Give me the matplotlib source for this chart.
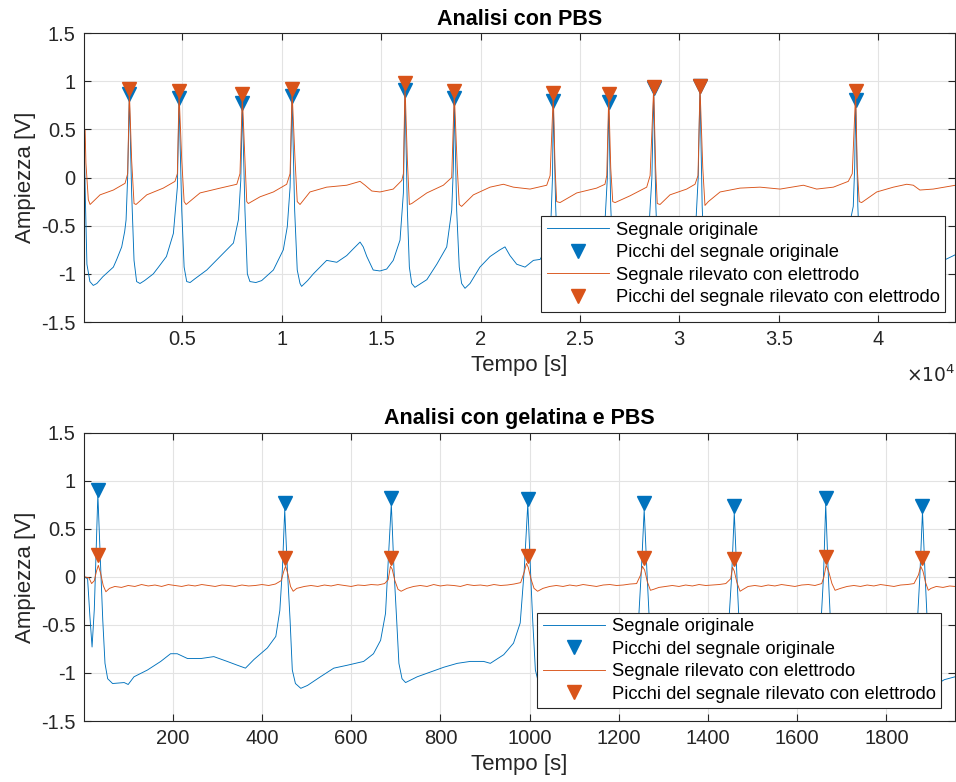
import numpy as np
import matplotlib.pyplot as plt
from matplotlib.ticker import FuncFormatter

plt.rcParams['font.family'] = ['Liberation Sans', 'DejaVu Sans']
plt.rcParams['axes.unicode_minus'] = False

BLUE = '#0072BD'
ORANGE = '#D95319'

# ---- Analisi con PBS (time in samples) ----
pbs_orig_t = [55, 120, 200, 350, 520, 700, 1000, 1530, 1700, 1950, 2100, 2170, 2250, 2334, 2450, 2570, 2700, 2870,
              3100, 3540, 3800, 4200, 4550, 4750, 4834, 4970, 5090, 5220, 5390, 5640, 6230, 6900, 7570, 7820, 7940,
              8018, 8150, 8270, 8400, 8700, 8990, 9580, 10080, 10280, 10420, 10520, 10650, 10780, 10920, 11000,
              11300, 11590, 12260, 12770, 13270, 13600, 13940, 14100, 14280, 14600, 14940, 15280, 15610, 15950,
              16120, 16200, 16320, 16420, 16540, 16700, 17300, 17800, 18300, 18550, 18630, 18680, 18800, 18930,
              19050, 19220, 19470, 19970, 20480, 20980, 21230, 21480, 21820, 22240, 22660, 23000, 23400, 23550,
              23620, 23660, 23780, 23900, 24050, 24400, 25200, 26000, 26250, 26380, 26450, 26550, 26680, 26850,
              27200, 28000, 28450, 28620, 28710, 28820, 28950, 29100, 29500, 30400, 30800, 30950, 31040, 31150,
              31280, 31450, 32000, 33000, 34500, 36000, 37500, 38400, 38750, 38820, 38870, 38980, 39100, 39250,
              39800, 41000, 42500, 43300, 43900]
pbs_orig_v = [0.45, -0.2, -0.9, -1.08, -1.12, -1.1, -1.03, -0.93, -0.85, -0.72, -0.56, -0.44, 0.01, 0.84, -0.16,
              -0.86, -1.08, -1.1, -1.07, -1.0, -0.93, -0.82, -0.58, -0.1, 0.8, -0.34, -0.93, -1.08, -1.09, -1.05,
              -0.96, -0.82, -0.68, -0.44, -0.03, 0.75, -0.34, -1.0, -1.08, -1.09, -1.07, -0.96, -0.75, -0.51, -0.1,
              0.83, -0.34, -0.96, -1.1, -1.13, -1.07, -1.0, -0.86, -0.88, -0.81, -0.74, -0.67, -0.72, -0.82, -0.96,
              -0.97, -0.95, -0.86, -0.65, -0.16, 0.89, -0.34, -0.93, -1.1, -1.14, -1.06, -0.9, -0.72, -0.34, 0.08,
              0.8, -0.34, -0.93, -1.1, -1.15, -1.1, -0.93, -0.82, -0.75, -0.72, -0.81, -0.9, -0.93, -0.86, -0.85,
              -0.7, -0.4, 0.0, 0.77, -0.3, -0.95, -1.1, -1.05, -0.9, -0.75, -0.5, 0.0, 0.76, -0.3, -0.95, -1.1,
              -1.05, -0.85, -0.6, 0.0, 0.91, -0.3, -0.95, -1.1, -1.05, -0.85, -0.6, 0.0, 0.93, -0.3, -0.95, -1.12,
              -1.05, -0.95, -0.9, -0.85, -0.8, -0.65, -0.3, 0.1, 0.78, -0.3, -0.95, -1.1, -1.05, -0.95, -0.9,
              -0.86, -0.8]

pbs_elet_t = [55, 110, 150, 270, 360, 860, 1530, 2120, 2250, 2334, 2450, 2570, 2670, 3210, 4040, 4630, 4750, 4834,
              4970, 5090, 5190, 5890, 6900, 7740, 7900, 8018, 8150, 8240, 8320, 8910, 9580, 10250, 10420, 10520,
              10670, 10780, 10920, 11420, 12260, 13270, 13940, 14190, 14530, 14940, 15610, 16040, 16120, 16200,
              16320, 16420, 16540, 17300, 18130, 18550, 18680, 18830, 18930, 19050, 19640, 20480, 21150, 21650,
              22490, 23330, 23500, 23660, 23750, 23830, 24000, 24840, 25840, 26260, 26350, 26450, 26550, 26650,
              26770, 27520, 28360, 28530, 28710, 28810, 28890, 29030, 29530, 30370, 30790, 30940, 31040, 31180,
              31290, 31460, 32050, 33050, 34060, 35070, 36240, 36910, 37750, 38500, 38700, 38870, 38950, 39050,
              39170, 39930, 40770, 41440, 41770, 42100, 42770, 43900]
pbs_elet_v = [0.5, 0.49, 0.15, -0.23, -0.28, -0.18, -0.13, -0.06, 0.04, 0.9, 0.18, -0.27, -0.28, -0.18, -0.11,
              -0.04, 0.04, 0.88, 0.18, -0.25, -0.28, -0.16, -0.11, -0.07, 0.04, 0.85, 0.18, -0.25, -0.27, -0.2,
              -0.15, -0.07, 0.04, 0.9, 0.18, -0.25, -0.28, -0.15, -0.1, -0.08, -0.04, -0.08, -0.14, -0.15, -0.12,
              -0.03, 0.04, 0.97, 0.18, -0.28, -0.27, -0.16, -0.08, 0.0, 0.88, 0.1, -0.28, -0.3, -0.18, -0.1, -0.07,
              -0.1, -0.12, -0.08, 0.02, 0.86, 0.1, -0.25, -0.26, -0.16, -0.11, -0.07, 0.02, 0.85, 0.1, -0.25, -0.26,
              -0.19, -0.1, 0.02, 0.93, 0.1, -0.27, -0.28, -0.18, -0.12, -0.07, 0.02, 0.94, 0.1, -0.29, -0.25,
              -0.15, -0.11, -0.1, -0.12, -0.08, -0.12, -0.1, -0.04, 0.04, 0.89, 0.1, -0.25, -0.26, -0.15, -0.1,
              -0.07, -0.08, -0.13, -0.12, -0.08]

pbs_pk_t = [2334, 4834, 8018, 10520, 16200, 18680, 23660, 26450, 28710, 31040, 38870]
pbs_pk_orig = [0.865, 0.824, 0.772, 0.85, 0.91, 0.824, 0.79, 0.78, 0.934, 0.95, 0.806]
pbs_pk_elet = [0.917, 0.893, 0.865, 0.917, 0.986, 0.9, 0.876, 0.865, 0.94, 0.95, 0.903]

# ---- Analisi con gelatina e PBS ----
gel_orig_t = [2, 9, 14, 19, 24, 28, 32, 37, 43, 48, 54, 65, 91, 100, 113, 143, 173, 195, 210, 233, 263, 292, 322,
              345, 363, 382, 412, 431, 440, 446, 451, 457, 463, 468, 475, 487, 502, 531, 561, 591, 628, 650, 666,
              677, 684, 690, 696, 702, 707, 714, 722, 748, 778, 808, 838, 867, 897, 912, 942, 964, 979, 988, 996,
              1002, 1007, 1013, 1020, 1035, 1100, 1180, 1230, 1245, 1251, 1257, 1263, 1269, 1275, 1285, 1350,
              1420, 1445, 1453, 1459, 1465, 1471, 1478, 1490, 1560, 1630, 1652, 1659, 1664, 1670, 1676, 1683,
              1695, 1780, 1850, 1868, 1875, 1881, 1887, 1893, 1900, 1912, 1930, 1954]
gel_orig_v = [0.0, -0.02, -0.4, -0.73, -0.34, 0.25, 0.86, 0.25, -0.45, -0.9, -1.06, -1.11, -1.1, -1.12, -1.04,
              -0.97, -0.88, -0.8, -0.8, -0.85, -0.85, -0.83, -0.88, -0.92, -0.95, -0.86, -0.74, -0.62, -0.35, 0.1,
              0.7, 0.07, -0.45, -0.97, -1.11, -1.16, -1.13, -1.04, -0.95, -0.92, -0.88, -0.8, -0.66, -0.38, 0.245,
              0.76, 0.07, -0.45, -0.9, -1.06, -1.1, -1.04, -0.99, -0.94, -0.9, -0.88, -0.88, -0.9, -0.81, -0.69,
              -0.48, 0.07, 0.76, 0.07, -0.45, -0.97, -1.1, -1.12, -0.98, -0.88, -0.72, -0.4, 0.1, 0.7, 0.07, -0.5,
              -1.0, -1.12, -1.0, -0.88, -0.6, 0.0, 0.67, 0.0, -0.6, -1.02, -1.12, -0.98, -0.86, -0.6, 0.0, 0.76,
              0.0, -0.6, -1.02, -1.12, -0.97, -0.85, -0.6, 0.0, 0.68, 0.0, -0.6, -1.02, -1.12, -1.07, -1.04]

gel_elet_t = [2, 12, 18, 24, 29, 33, 38, 44, 50, 58, 70, 85, 100, 115, 130, 145, 160, 175, 190, 205, 220, 235,
              250, 265, 280, 295, 310, 325, 340, 355, 370, 385, 400, 415, 430, 443, 449, 453, 458, 464, 470, 478,
              495, 510, 525, 540, 555, 570, 585, 600, 615, 630, 645, 660, 675, 683, 688, 692, 698, 705, 712, 725,
              740, 755, 770, 785, 800, 815, 830, 845, 860, 875, 890, 905, 920, 935, 950, 965, 980, 988, 993, 997,
              1003, 1010, 1018, 1030, 1045, 1060, 1075, 1090, 1105, 1120, 1135, 1150, 1165, 1180, 1195, 1210,
              1225, 1240, 1249, 1253, 1258, 1264, 1271, 1278, 1290, 1305, 1320, 1335, 1350, 1365, 1380, 1395,
              1410, 1425, 1440, 1451, 1455, 1459, 1465, 1472, 1479, 1490, 1505, 1520, 1535, 1550, 1565, 1580,
              1595, 1610, 1625, 1640, 1655, 1660, 1665, 1671, 1678, 1685, 1697, 1712, 1727, 1742, 1757, 1772,
              1787, 1802, 1817, 1832, 1847, 1862, 1872, 1877, 1882, 1888, 1894, 1900, 1912, 1927, 1942, 1954]
gel_elet_v = [0.0, -0.01, -0.07, -0.04, 0.06, 0.12, 0.04, -0.09, -0.155, -0.12, -0.1, -0.11, -0.09, -0.1, -0.08,
              -0.095, -0.085, -0.1, -0.08, -0.09, -0.1, -0.085, -0.095, -0.08, -0.09, -0.1, -0.085, -0.09, -0.1,
              -0.085, -0.095, -0.09, -0.08, -0.09, -0.075, -0.04, 0.06, 0.11, 0.03, -0.1, -0.15, -0.12, -0.1,
              -0.09, -0.1, -0.085, -0.095, -0.08, -0.09, -0.1, -0.085, -0.09, -0.08, -0.085, -0.07, -0.03, 0.11,
              0.08, -0.04, -0.13, -0.15, -0.12, -0.1, -0.09, -0.1, -0.08, -0.095, -0.085, -0.09, -0.1, -0.08,
              -0.09, -0.085, -0.095, -0.08, -0.09, -0.085, -0.075, -0.06, 0.05, 0.14, 0.1, -0.02, -0.12, -0.15,
              -0.12, -0.1, -0.09, -0.1, -0.085, -0.095, -0.08, -0.09, -0.1, -0.085, -0.08, -0.09, -0.085, -0.075,
              -0.07, 0.02, 0.11, 0.07, -0.05, -0.14, -0.13, -0.11, -0.1, -0.09, -0.1, -0.085, -0.095, -0.08,
              -0.09, -0.085, -0.08, -0.07, -0.02, 0.1, 0.06, -0.06, -0.15, -0.13, -0.1, -0.09, -0.1, -0.085,
              -0.095, -0.08, -0.09, -0.1, -0.085, -0.08, -0.09, -0.07, 0.0, 0.12, 0.05, -0.07, -0.14, -0.12,
              -0.1, -0.09, -0.1, -0.085, -0.095, -0.08, -0.09, -0.1, -0.085, -0.08, -0.07, 0.02, 0.11, 0.06,
              -0.06, -0.14, -0.12, -0.1, -0.11, -0.095, -0.1]

gel_pk_t = [32, 451, 690, 996, 1257, 1459, 1664, 1881]
gel_pk_orig = [0.904, 0.765, 0.82, 0.815, 0.765, 0.735, 0.817, 0.74]
gel_pk_elet = [0.227, 0.193, 0.193, 0.22, 0.193, 0.19, 0.21, 0.193]

labels = ['Segnale originale', 'Picchi del segnale originale',
          'Segnale rilevato con elettrodo', 'Picchi del segnale rilevato con elettrodo']


def draw(ax, t1, v1, pk_t, pk1, t2, v2, pk2, title, xlim, xticks, scale, leg_anchor):
    ax.plot(t1, v1, color=BLUE, linewidth=0.65, label=labels[0])
    ax.plot(pk_t, pk1, 'v', color=BLUE, markersize=10, label=labels[1])
    ax.plot(t2, v2, color=ORANGE, linewidth=0.65, label=labels[2])
    ax.plot(pk_t, pk2, 'v', color=ORANGE, markersize=10, label=labels[3])

    ax.set_xlim(xlim)
    ax.set_ylim(-1.5, 1.5)
    ax.set_xticks(xticks)
    ax.set_yticks([-1.5, -1, -0.5, 0, 0.5, 1, 1.5])
    ax.xaxis.set_major_formatter(FuncFormatter(lambda v, p: '%g' % (v / scale)))
    ax.yaxis.set_major_formatter(FuncFormatter(lambda v, p: '%g' % v))
    ax.grid(True, color='#e3e3e3', linewidth=0.8)
    ax.set_axisbelow(True)
    ax.tick_params(direction='in', top=True, right=True, labelsize=14.5,
                   colors='#262626', length=5, width=0.8, pad=6)
    for s in ax.spines.values():
        s.set_color('#262626')
        s.set_linewidth(0.8)
    ax.set_title(title, fontsize=15.5, fontweight='bold', pad=6)
    ax.set_xlabel('Tempo [s]', fontsize=16, color='#262626', labelpad=4)
    ax.set_ylabel('Ampiezza [V]', fontsize=16, color='#262626', labelpad=4)
    leg = ax.legend(loc='lower right', bbox_to_anchor=leg_anchor, fontsize=13.2, fancybox=False,
                    framealpha=1, edgecolor='#262626', handlelength=3.4, borderpad=0.3,
                    labelspacing=0.3, handletextpad=0.35, borderaxespad=0.0)
    leg.get_frame().set_linewidth(0.8)


fig = plt.figure(figsize=(9.56, 7.82), dpi=100)
ax1 = fig.add_axes([0.0879, 0.5882, 0.9111, 0.3696])
ax2 = fig.add_axes([0.0879, 0.078, 0.9111, 0.3687])

draw(ax1, pbs_orig_t, pbs_orig_v, pbs_pk_t, pbs_pk_orig, pbs_elet_t, pbs_elet_v, pbs_pk_elet,
     'Analisi con PBS', (55, 43870), np.arange(5000, 40001, 5000), 1e4, (0.9885, 0.035))
ax1.text(1.0, -0.185, r'$\times10^{4}$', transform=ax1.transAxes, ha='right', va='center',
         fontsize=13.5, color='#262626')

draw(ax2, gel_orig_t, gel_orig_v, gel_pk_t, gel_pk_orig, gel_elet_t, gel_elet_v, gel_pk_elet,
     'Analisi con gelatina e PBS', (1, 1954), np.arange(200, 1801, 200), 1, (0.984, 0.045))

fig.savefig('out.png', dpi=100)
